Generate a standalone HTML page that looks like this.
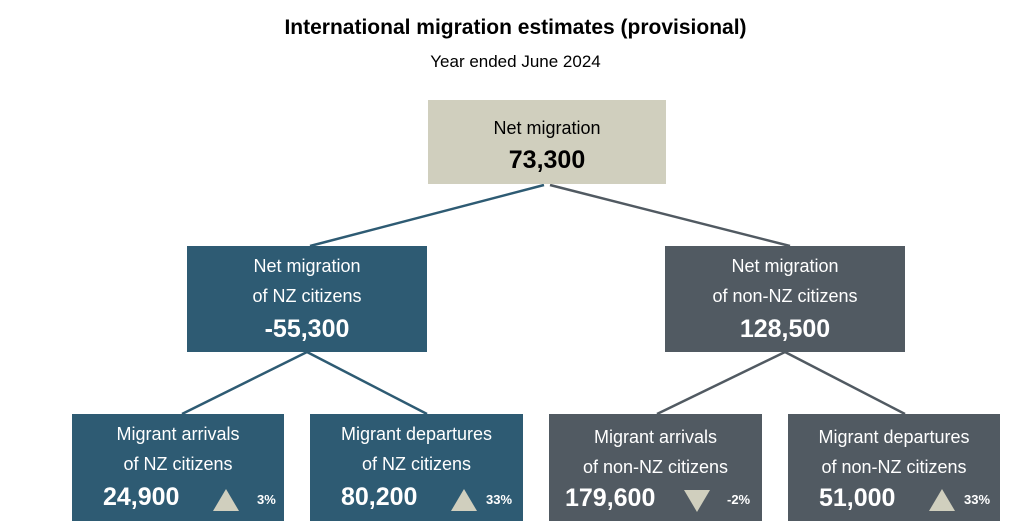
<!DOCTYPE html>
<html><head><meta charset="utf-8"><style>
body{margin:0;width:1031px;height:532px;background:#fff;position:relative;overflow:hidden;font-family:"Liberation Sans",sans-serif}
.t{position:absolute;left:0;width:1031px;text-align:center;color:#000}
.box{position:absolute;text-align:center;color:#fff;box-sizing:border-box}
.l{font-size:18px;line-height:30px}
.v{font-size:25px;font-weight:bold}
.tri{position:absolute;width:0;height:0;border-left:13px solid transparent;border-right:13px solid transparent}
.up{border-bottom:22px solid #d0cfbe}
.dn{border-top:22px solid #d0cfbe}
.p{position:absolute;font-size:13px;font-weight:bold}
</style></head><body>
<div class="t" style="top:16px;font-size:21px;font-weight:bold">International migration estimates (provisional)</div>
<div class="t" style="top:52px;font-size:17px">Year ended June 2024</div>
<svg width="1031" height="532" style="position:absolute;left:0;top:0">
<g stroke="#2e5b73" stroke-width="2.5"><line x1="544" y1="185" x2="310" y2="246"/><line x1="307" y1="352" x2="182" y2="414"/><line x1="307" y1="352" x2="427" y2="414"/></g>
<g stroke="#515a62" stroke-width="2.5"><line x1="550" y1="185" x2="790" y2="246"/><line x1="785" y1="352" x2="657" y2="414"/><line x1="785" y1="352" x2="905" y2="414"/></g>
</svg>
<div class="box" style="left:428px;top:100px;width:238px;height:84px;background:#d0cfbe;color:#000;padding-top:13px"><div class="l">Net migration</div><div class="v" style="margin-top:3px">73,300</div></div>
<div class="box" style="left:187px;top:246px;width:240px;height:106px;background:#2e5b73;padding-top:5px"><div class="l">Net migration</div><div class="l">of NZ citizens</div><div class="v" style="margin-top:4px">-55,300</div></div>
<div class="box" style="left:665px;top:246px;width:240px;height:106px;background:#515a62;padding-top:5px"><div class="l">Net migration</div><div class="l">of non-NZ citizens</div><div class="v" style="margin-top:4px">128,500</div></div>

<div class="box" style="left:72px;top:414px;width:212px;height:107px;background:#2e5b73;padding-top:5px"><div class="l">Migrant arrivals</div><div class="l">of NZ citizens</div>
<div class="v" style="position:absolute;left:31px;top:69px">24,900</div><div class="tri up" style="left:141px;top:75px"></div><div class="p" style="left:185px;top:78px">3%</div></div>
<div class="box" style="left:310px;top:414px;width:213px;height:107px;background:#2e5b73;padding-top:5px"><div class="l">Migrant departures</div><div class="l">of NZ citizens</div>
<div class="v" style="position:absolute;left:31px;top:69px">80,200</div><div class="tri up" style="left:141px;top:75px"></div><div class="p" style="left:176px;top:78px">33%</div></div>
<div class="box" style="left:549px;top:414px;width:213px;height:107px;background:#515a62;padding-top:8px"><div class="l">Migrant arrivals</div><div class="l">of non-NZ citizens</div>
<div class="v" style="position:absolute;left:16px;top:70px">179,600</div><div class="tri dn" style="left:135px;top:76px"></div><div class="p" style="left:178px;top:78px">-2%</div></div>
<div class="box" style="left:788px;top:414px;width:212px;height:107px;background:#515a62;padding-top:8px"><div class="l">Migrant departures</div><div class="l">of non-NZ citizens</div>
<div class="v" style="position:absolute;left:31px;top:70px">51,000</div><div class="tri up" style="left:141px;top:75px"></div><div class="p" style="left:176px;top:78px">33%</div></div>
</body></html>
